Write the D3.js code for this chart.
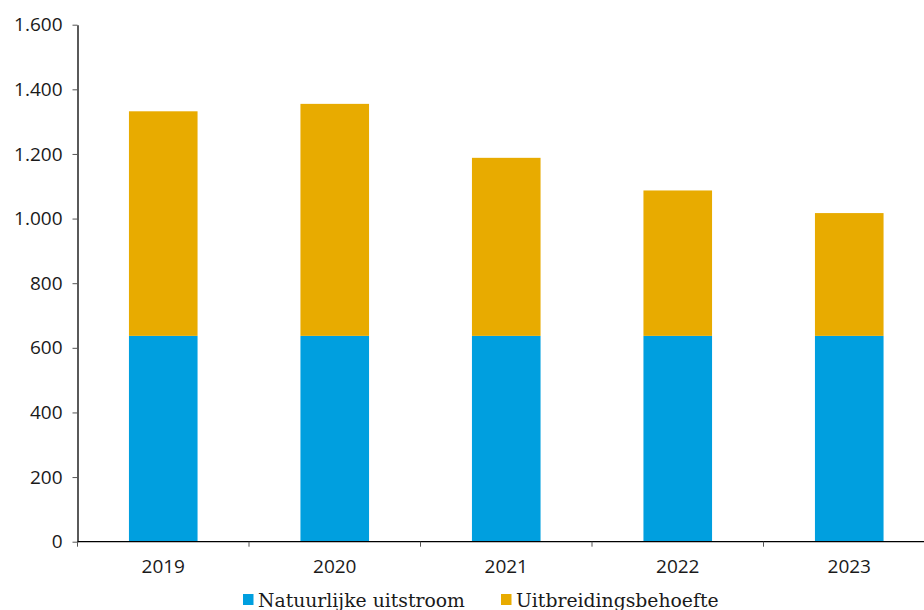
<!DOCTYPE html>
<html>
<head>
<meta charset="utf-8">
<script src="https://cdn.jsdelivr.net/npm/d3@7"></script>
<style>
  body { margin: 0; background: #fff; }
  svg { display: block; }
</style>
</head>
<body>
<svg id="chart" width="924" height="610"></svg>
<script>
// Data;
const years = ["2019", "2020", "2021", "2022", "2023"]
const natuurlijkeUitstroom = [637, 637, 637, 637, 637]
const uitbreidingsbehoefte = [695, 718, 551, 450, 380]
const seriesNames = ["Natuurlijke uitstroom", "Uitbreidingsbehoefte"]
const yTicks = [0, 200, 400, 600, 800, 1000, 1200, 1400, 1600]

const colors = ["#009fdf", "#e8ab00"]

const svg = d3.select("#chart")
const margin = { left: 77.5, right: 0, top: 24.7, bottom: 68.3 }
const width = 924, height = 610

const x = d3.scaleBand()
    .domain(years)
    .range([margin.left, margin.left + 171.5 * 5])
    .paddingInner(0.6)
    .paddingOuter(0.3)

const y = d3.scaleLinear()
    .domain([0, 1600])
    .range([height - margin.bottom, margin.top])

// Stack the two series;
const rows = years.map((yr, i) => ({ year: yr, a: natuurlijkeUitstroom[i], b: uitbreidingsbehoefte[i] }))
const stacked = d3.stack().keys(["a", "b"])(rows)

svg.append("g")
    .selectAll("g")
    .data(stacked)
    .join("g")
    .attr("fill", (d, i) => colors[i])
    .selectAll("rect")
    .data(d => d)
    .join("rect")
    .attr("x", d => x(d.data.year))
    .attr("width", x.bandwidth())
    .attr("y", d => y(d[1]))
    .attr("height", d => y(d[0]) - y(d[1]))

const fmt = d3.formatLocale({ decimal: ",", thousands: ".", grouping: [3], currency: ["€", ""] }).format(",d")

// Y axis;
const yAxis = svg.append("g")
    .attr("transform", `translate(${margin.left},0)`)
    .call(d3.axisLeft(y).tickValues(yTicks).tickFormat(fmt).tickSize(5).tickSizeOuter(0).tickPadding(10))
yAxis.select(".domain").attr("stroke", "#000").attr("stroke-width", 1.3)
yAxis.selectAll(".tick line").attr("stroke", "#555")
yAxis.selectAll("text")
    .attr("font-family", "'Open Sans', sans-serif")
    .attr("font-size", 19)
    .attr("fill", "#1a1a1a")

// X axis with ticks at the band edges;
const xAxisG = svg.append("g")
    .attr("transform", `translate(0,${y(0)})`)
xAxisG.append("line")
    .attr("x1", margin.left).attr("x2", width)
    .attr("stroke", "#000").attr("stroke-width", 1.3)
xAxisG.selectAll(".edge")
    .data(d3.range(years.length + 1).map(i => margin.left + i * x.step()))
    .join("line")
    .attr("x1", d => d).attr("x2", d => d)
    .attr("y1", 0).attr("y2", 5)
    .attr("stroke", "#555")
xAxisG.selectAll("text")
    .data(years)
    .join("text")
    .attr("x", d => x(d) + x.bandwidth() / 2)
    .attr("y", 31.5)
    .attr("text-anchor", "middle")
    .attr("font-family", "'Open Sans', sans-serif")
    .attr("font-size", 19)
    .attr("fill", "#1a1a1a")
    .text(d => d)

// Legend;
const legendX = [243, 501]
const legend = svg.append("g")
    .selectAll("g")
    .data(seriesNames)
    .join("g")
    .attr("transform", (d, i) => `translate(${legendX[i]},594)`)
legend.append("rect")
    .attr("width", 10.5).attr("height", 11)
    .attr("fill", (d, i) => colors[i])
legend.append("text")
    .attr("x", 15)
    .attr("y", 12.5)
    .attr("font-family", "'DejaVu Serif', serif")
    .attr("font-size", 18.8)
    .attr("fill", "#1a1a1a")
    .text(d => d)
</script>
</body>
</html>
